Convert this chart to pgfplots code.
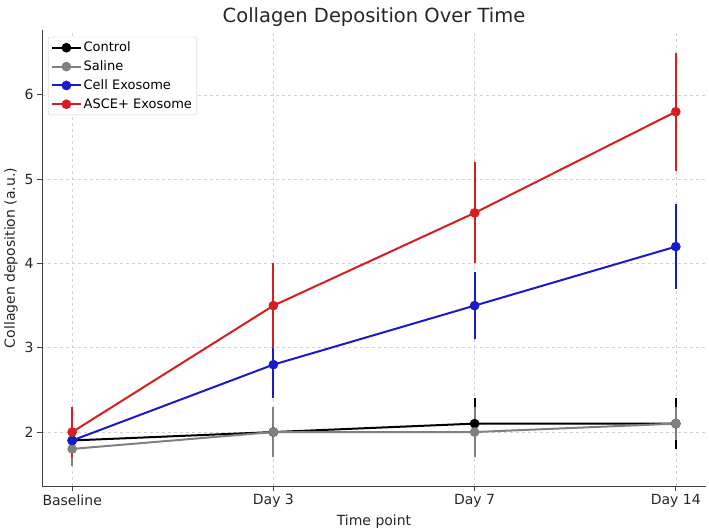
\documentclass[border=0pt]{standalone}
\usepackage{pgfplots}
\pgfplotsset{compat=1.18}
\usepackage{fontspec}
\setmainfont{DejaVu Sans}
\definecolor{cgray}{RGB}{128,128,128}
\definecolor{cblue}{RGB}{25,25,205}
\definecolor{cred}{RGB}{215,30,30}
\definecolor{gridc}{RGB}{210,210,210}
\begin{document}
\begin{tikzpicture}
\path[use as bounding box] (-42pt,-46pt) rectangle (667pt,486pt);
\begin{axis}[
  at={(0,0)}, anchor=south west,
  scale only axis, width=664pt, height=456pt,
  xmin=-0.15, xmax=3.15, ymin=1.36, ymax=6.77,
  axis lines*=left,
  axis line style={black!75, line width=0.9pt},
  xtick={0,1,2,3}, xticklabels={Baseline,Day 3,Day 7,Day 14},
  ytick={2,3,4,5,6},
  tick align=outside, major tick length=5pt,
  tick style={black!75, line width=0.9pt},
  grid=major,
  major grid style={gridc, dashed, line width=0.6pt},
  tick label style={font=\fontsize{14}{16}\selectfont, text=black!85},
  /pgf/number format/assume math mode=true,
  xlabel={Time point}, ylabel={Collagen deposition (a.u.)},
  label style={font=\fontsize{14}{16}\selectfont, text=black!85},
  title={Collagen Deposition Over Time},
  title style={font=\fontsize{19.5}{22}\selectfont, text=black!85, yshift=-6pt},
  legend style={font=\fontsize{13}{15}\selectfont, draw=black!20, rounded corners=2pt, fill=white, at={(0.009,0.985)}, anchor=north west, row sep=3.5pt, inner sep=3pt},
  legend cell align=left,
  legend image code/.code={
    \draw[#1, mark=none] (0.5cm,-0.12cm) -- (0.5cm,0.12cm);
    \draw[mark repeat=2, mark phase=2, #1] plot coordinates {(0cm,0cm) (0.5cm,0cm) (1cm,0cm)};
  },
  error bars/y dir=both, error bars/y explicit, error bars/error mark=none,
]
\addplot[black, line width=2pt, mark=*, mark size=3.8pt, mark options={fill=black, draw=black}, error bars/error bar style={line width=2.2pt, black}]
  coordinates {(0,1.9) +- (0,0.2) (1,2.0) +- (0,0.3) (2,2.1) +- (0,0.3) (3,2.1) +- (0,0.3)};
\addlegendentry{Control}
\addplot[cgray, line width=2pt, mark=*, mark size=3.8pt, mark options={fill=cgray, draw=cgray}, error bars/error bar style={line width=2.2pt, cgray}]
  coordinates {(0,1.8) +- (0,0.2) (1,2.0) +- (0,0.3) (2,2.0) +- (0,0.3) (3,2.1) +- (0,0.2)};
\addlegendentry{Saline}
\addplot[cblue, line width=2pt, mark=*, mark size=3.8pt, mark options={fill=cblue, draw=cblue}, error bars/error bar style={line width=2.2pt, cblue}]
  coordinates {(0,1.9) +- (0,0.2) (1,2.8) +- (0,0.4) (2,3.5) +- (0,0.4) (3,4.2) +- (0,0.5)};
\addlegendentry{Cell Exosome}
\addplot[cred, line width=2pt, mark=*, mark size=3.8pt, mark options={fill=cred, draw=cred}, error bars/error bar style={line width=2.2pt, cred}]
  coordinates {(0,2.0) +- (0,0.3) (1,3.5) +- (0,0.5) (2,4.6) +- (0,0.6) (3,5.8) +- (0,0.7)};
\addlegendentry{ASCE+ Exosome}
\end{axis}
\end{tikzpicture}
\end{document}
